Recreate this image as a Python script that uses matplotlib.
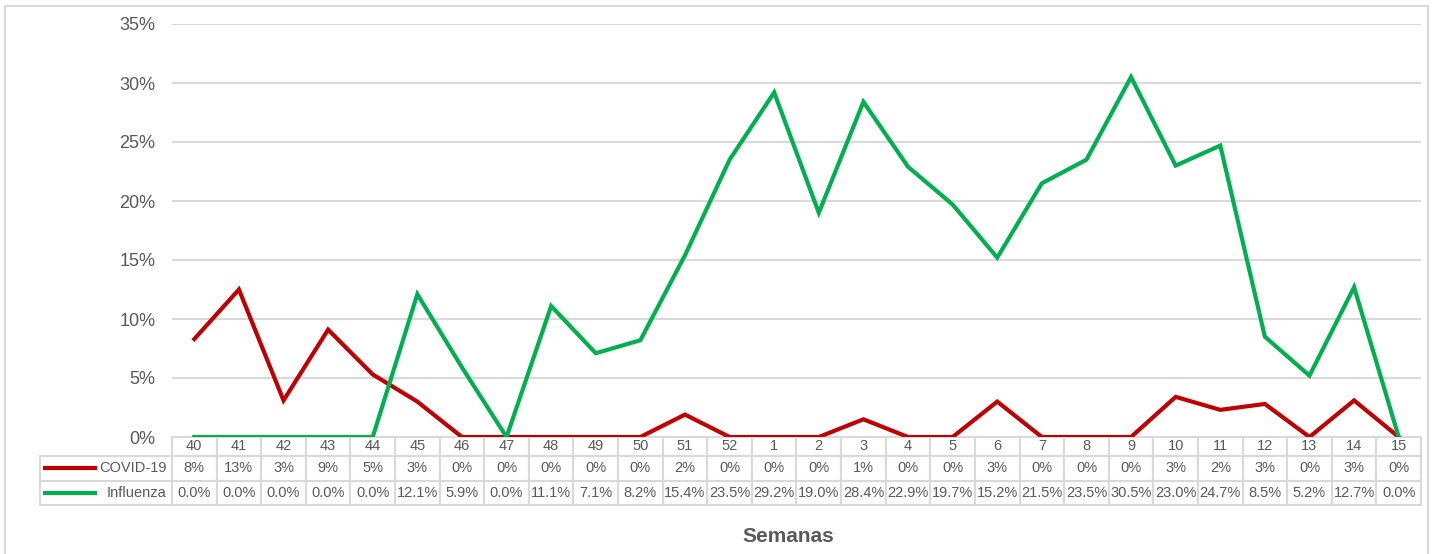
import matplotlib.pyplot as plt
from matplotlib.lines import Line2D
from matplotlib.patches import Rectangle
from matplotlib.table import Table
from matplotlib.ticker import PercentFormatter

semanas = ["40", "41", "42", "43", "44", "45", "46", "47", "48", "49", "50", "51", "52",
           "1", "2", "3", "4", "5", "6", "7", "8", "9", "10", "11", "12", "13", "14", "15"]
covid = [8.3, 12.5, 3.1, 9.1, 5.3, 3.0, 0, 0, 0, 0, 0, 1.9, 0,
         0, 0, 1.5, 0, 0, 3.0, 0, 0, 0, 3.4, 2.3, 2.8, 0, 3.1, 0]
covid_lbl = ["8%", "13%", "3%", "9%", "5%", "3%", "0%", "0%", "0%", "0%", "0%", "2%", "0%",
             "0%", "0%", "1%", "0%", "0%", "3%", "0%", "0%", "0%", "3%", "2%", "3%", "0%", "3%", "0%"]
influenza = [0.0, 0.0, 0.0, 0.0, 0.0, 12.1, 5.9, 0.0, 11.1, 7.1, 8.2, 15.4, 23.5,
             29.2, 19.0, 28.4, 22.9, 19.7, 15.2, 21.5, 23.5, 30.5, 23.0, 24.7, 8.5, 5.2, 12.7, 0.0]
series_names = ["COVID-19", "Influenza"]

RED = "#C00000"
GREEN = "#00B050"
GRID = "#D9D9D9"
TXT = "#595959"

plt.rcParams["font.family"] = ["Liberation Sans", "DejaVu Sans"]

fig = plt.figure(figsize=(14.32, 5.54), dpi=100)
# outer chart frame
fig.patches.append(Rectangle((5 / 1432, -0.05), 1423 / 1432, 1.0 - 6 / 554 + 0.05,
                             transform=fig.transFigure, fill=False, edgecolor=GRID, lw=1.5))

ax = fig.add_axes([172 / 1432, 117 / 554, 1249 / 1432, 413 / 554])
x = [i + 0.5 for i in range(len(semanas))]
ax.plot(x, covid, color=RED, lw=3, solid_joinstyle="miter", zorder=3)
ax.plot(x, influenza, color=GREEN, lw=3, solid_joinstyle="miter", zorder=3)

ax.set_xlim(0, len(semanas))
ax.set_ylim(0, 35)
ax.set_yticks(range(0, 36, 5))
ax.yaxis.set_major_formatter(PercentFormatter(decimals=0))
ax.set_xticks([])
ax.tick_params(axis="y", length=0, pad=12, labelsize=13, labelcolor=TXT)
ax.grid(axis="y", color=GRID, lw=1.5)
ax.set_axisbelow(True)
for s in ax.spines.values():
    s.set_visible(False)

# data table under the plot: column 0 holds the series names, 1..n the weeks
infl_lbl = [f"{v:.1f}%" for v in influenza]
colw = 1249 / len(semanas)
tbl = Table(ax, bbox=[-132 / 1249, -68 / 413, 1381 / 1249, 68 / 413])
tbl.auto_set_font_size(False)
rows = [semanas, covid_lbl, infl_lbl]
heights = [19, 24.5, 24.5]
for r, vals in enumerate(rows):
    if r > 0:
        c = tbl.add_cell(r, 0, width=132, height=heights[r], text=series_names[r - 1], loc="right")
        c.PAD = 0.04
    for j, v in enumerate(vals):
        tbl.add_cell(r, j + 1, width=colw, height=heights[r], text=v, loc="center")
for cell in tbl.get_celld().values():
    cell.set_edgecolor(GRID)
    cell.set_linewidth(1.5)
    cell.get_text().set_color(TXT)
    cell.get_text().set_fontsize(10.5)
ax.add_table(tbl)

# legend keys inside the row label cells
for yy, col in [(468, RED), (493, GREEN)]:
    fig.add_artist(Line2D([45 / 1432, 95 / 1432], [1 - yy / 554] * 2, color=col, lw=3,
                          transform=fig.transFigure))

fig.text(788 / 1432, 1 - 537 / 554, "Semanas", ha="center", va="center",
         fontsize=15, fontweight="bold", color=TXT)

plt.savefig("out.png", dpi=100)
